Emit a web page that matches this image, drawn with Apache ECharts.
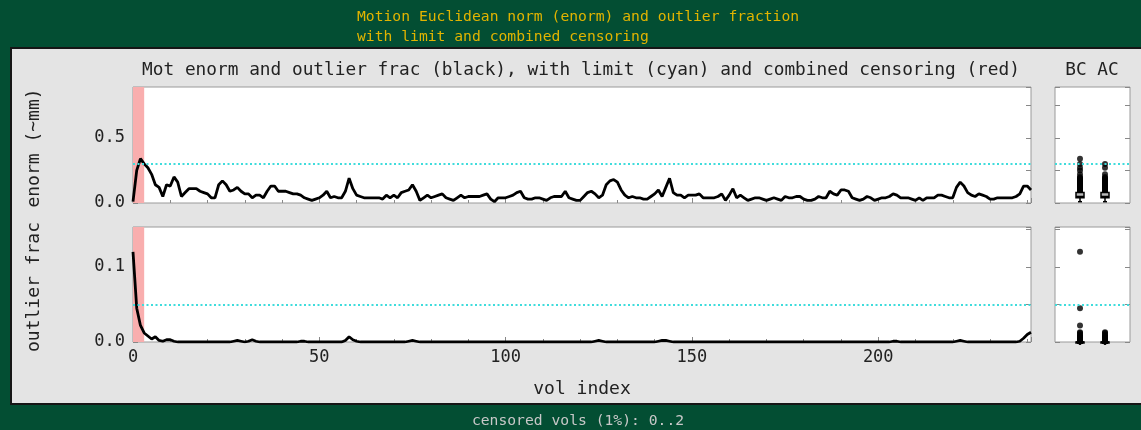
<!DOCTYPE html>
<html>
<head>
<meta charset="utf-8">
<script src="https://cdn.jsdelivr.net/npm/echarts@6/dist/echarts.min.js"></script>
<style>
  html, body { margin: 0; padding: 0; background: #034e33; }
  #main { width: 1141px; height: 430px; }
</style>
</head>
<body>
<div id="main"></div>
<script>
// motion Euclidean norm per volume (~mm)
const enorm = [
  0.01,0.25,0.34,0.30,0.27,0.22,0.14,0.12,0.05,0.14,0.13,0.20,0.16,0.05,0.08,0.11,0.11,0.11,0.09,0.08,
  0.07,0.04,0.04,0.14,0.17,0.14,0.09,0.10,0.12,0.09,0.07,0.07,0.04,0.06,0.06,0.04,0.09,0.13,0.13,0.09,
  0.09,0.09,0.08,0.07,0.07,0.06,0.04,0.03,0.02,0.03,0.04,0.06,0.09,0.04,0.05,0.04,0.04,0.09,0.19,0.11,
  0.06,0.05,0.04,0.04,0.04,0.04,0.04,0.03,0.06,0.04,0.06,0.04,0.08,0.09,0.10,0.14,0.09,0.02,0.04,0.06,
  0.04,0.05,0.06,0.07,0.04,0.03,0.02,0.04,0.06,0.04,0.05,0.05,0.05,0.05,0.06,0.07,0.03,0.01,0.04,0.04,
  0.04,0.05,0.06,0.08,0.09,0.04,0.03,0.03,0.04,0.04,0.03,0.02,0.04,0.05,0.05,0.05,0.09,0.04,0.03,0.02,
  0.02,0.05,0.08,0.09,0.07,0.04,0.06,0.14,0.17,0.18,0.16,0.10,0.06,0.04,0.05,0.04,0.04,0.03,0.03,0.05,
  0.07,0.10,0.05,0.12,0.19,0.08,0.06,0.06,0.04,0.06,0.06,0.06,0.07,0.04,0.04,0.04,0.04,0.05,0.07,0.02,
  0.06,0.11,0.04,0.06,0.04,0.02,0.03,0.04,0.04,0.03,0.02,0.03,0.04,0.03,0.02,0.05,0.04,0.04,0.05,0.05,
  0.03,0.02,0.02,0.03,0.05,0.04,0.04,0.09,0.07,0.06,0.10,0.10,0.09,0.04,0.03,0.02,0.03,0.05,0.04,0.02,
  0.03,0.04,0.04,0.05,0.07,0.06,0.04,0.04,0.04,0.03,0.02,0.04,0.02,0.04,0.04,0.04,0.06,0.06,0.05,0.04,
  0.04,0.12,0.16,0.13,0.08,0.06,0.05,0.07,0.06,0.05,0.03,0.03,0.04,0.04,0.04,0.04,0.04,0.05,0.07,0.13,
  0.13,0.10
]

// outlier fraction per volume
const outfrac = [
  0.12,0.045,0.022,0.012,0.008,0.004,0.007,0.002,0.001,0.003,0.003,0.001,0,0,0,0,0,0,0,0,
  0,0,0,0,0,0,0,0.001,0.002,0.001,0,0.001,0.003,0.001,0,0,0,0,0,0,
  0,0,0,0,0,0.001,0.001,0,0,0,0,0,0,0,0,0,0,0.002,0.007,0.003,
  0.001,0,0,0,0,0,0,0,0,0,0,0,0,0,0.001,0.002,0.001,0,0,0,
  0,0,0,0,0,0,0,0,0,0,0,0,0,0,0,0,0,0,0,0,
  0,0,0,0,0,0,0,0,0,0,0,0,0,0,0,0,0,0,0,0,
  0,0,0,0,0.001,0.002,0.001,0,0,0,0,0,0,0,0,0,0,0,0,0,
  0,0.001,0.002,0.002,0.001,0,0,0,0,0,0,0,0,0,0,0,0,0,0,0,
  0,0,0,0,0,0,0,0,0,0,0,0,0,0,0,0,0,0,0,0,
  0,0,0,0,0,0,0,0,0,0,0,0,0,0,0,0,0,0,0,0,
  0,0,0,0,0.001,0.001,0,0,0,0,0,0,0,0,0,0,0,0,0,0,
  0,0.001,0.002,0.001,0,0,0,0,0,0,0,0,0,0,0,0,0,0,0.001,0.005,
  0.01,0.013
]

const censored = [0, 1, 2]
const enormLimit = 0.3
const outLimit = 0.05
const boxLabels = ['BC', 'AC']
const xTicks = [0, 50, 100, 150, 200]

const FONT = 'DejaVu Sans Mono'
const myChart = echarts.init(document.getElementById('main'))

const pairs = arr => arr.map((v, i) => [i, v])
const afterCens = arr => arr.filter((v, i) => censored.indexOf(i) < 0)

function quant(sorted, p) {
    const pos = (sorted.length - 1) * p
    const lo = Math.floor(pos), hi = Math.ceil(pos)
    return sorted[lo] + (sorted[hi] - sorted[lo]) * (pos - lo)
}
// box stats + dots above the box for BC (pos 1) and AC (pos 2)
function boxData(arr) {
    const groups = [arr, afterCens(arr)]
    const boxes = [], dots = []
    groups.forEach((g, k) => {
        const s = g.slice().sort((a, b) => a - b)
        const q1 = quant(s, 0.25), med = quant(s, 0.5), q3 = quant(s, 0.75)
        boxes.push([k + 1, s[0], q1, med, q3])
        s.filter(v => v > q3).forEach(v => dots.push([k + 1, v]))
    })
    return { boxes, dots }
}
const bxE = boxData(enorm)
const bxO = boxData(outfrac)

function renderBox(params, api) {
    const x = api.value(0)
    const pMin = api.coord([x, api.value(1)])
    const pQ1 = api.coord([x, api.value(2)])
    const pMed = api.coord([x, api.value(3)])
    const pQ3 = api.coord([x, api.value(4)])
    const hw = 4
    const st = { stroke: '#000', lineWidth: 1.5, fill: null }
    return {
        type: 'group',
        children: [
            { type: 'line', shape: { x1: pMin[0], y1: pMin[1], x2: pQ1[0], y2: pQ1[1] }, style: st },
            { type: 'line', shape: { x1: pMin[0] - 2, y1: pMin[1], x2: pMin[0] + 2, y2: pMin[1] }, style: st },
            { type: 'rect', shape: { x: pQ3[0] - hw, y: pQ3[1], width: hw * 2, height: Math.max(pQ1[1] - pQ3[1], 1) },
              style: { stroke: '#000', lineWidth: 1.5, fill: '#bbb' } },
            { type: 'line', shape: { x1: pMed[0] - hw, y1: pMed[1], x2: pMed[0] + hw, y2: pMed[1] }, style: st }
        ]
    }
}

const cyanLine = v => ({
    silent: true, symbol: 'none', label: { show: false },
    lineStyle: { color: '#3fdcdc', type: [2, 2.5], width: 2 },
    data: [{ yAxis: v }]
})
const redArea = {
    silent: true,
    itemStyle: { color: '#f9aeae' },
    data: [[{ xAxis: Math.min(...censored) }, { xAxis: Math.max(...censored) + 1 }]]
}

const gridBase = { show: true, backgroundColor: '#fff', borderColor: '#9a9a9a', borderWidth: 1 }
const tickStyle = { inside: true, length: 5, lineStyle: { color: '#888' } }

function xVol(gi, labels) {
    return {
        type: 'value', gridIndex: gi, min: 0, max: 241, interval: 50,
        axisLine: { show: false }, splitLine: { show: false },
        axisTick: tickStyle,
        minorTick: { show: true, splitNumber: 5, length: 3, lineStyle: { color: '#888' } },
        axisLabel: labels ? {
            show: true, color: '#222', fontFamily: FONT, fontSize: 17, margin: 7,
            showMaxLabel: false,
            formatter: v => (xTicks.indexOf(v) >= 0 ? String(v) : '')
        } : { show: false },
        name: labels ? 'vol index' : '',
        nameLocation: 'middle', nameGap: 38,
        nameTextStyle: { color: '#222', fontFamily: FONT, fontSize: 18 }
    }
}
function xBox(gi) {
    return {
        type: 'value', gridIndex: gi, min: 0, max: 3,
        axisLine: { show: false }, axisTick: { show: false },
        axisLabel: { show: false }, splitLine: { show: false }
    }
}
function yAx(gi, max, interval, pos, labelEvery) {
    return {
        type: 'value', gridIndex: gi, position: pos, min: 0, max: max, interval: interval,
        axisLine: { show: false }, splitLine: { show: false },
        axisTick: tickStyle,
        axisLabel: labelEvery ? {
            show: true, color: '#222', fontFamily: FONT, fontSize: 17, margin: 8,
            formatter: v => {
                const r = v / labelEvery
                return Math.abs(r - Math.round(r)) < 1e-6 ? v.toFixed(1) : ''
            }
        } : { show: false }
    }
}

const option = {
    backgroundColor: '#034e33',
    animation: false,
    graphic: [
        { type: 'rect', z: -10, shape: { x: 11, y: 48, width: 1135, height: 356 },
          style: { fill: '#e4e4e4', stroke: '#161616', lineWidth: 2 } },
        { type: 'text', x: 357, y: 17, style: { text: 'Motion Euclidean norm (enorm) and outlier fraction',
          fill: '#e2b400', font: '14.7px "DejaVu Sans Mono"', textVerticalAlign: 'middle' } },
        { type: 'text', x: 357, y: 37, style: { text: 'with limit and combined censoring',
          fill: '#e2b400', font: '14.7px "DejaVu Sans Mono"', textVerticalAlign: 'middle' } },
        { type: 'text', x: 578, y: 421, style: { text: 'censored vols (1%): 0..2',
          fill: '#c8c8c8', font: '14.7px "DejaVu Sans Mono"', textAlign: 'center', textVerticalAlign: 'middle' } },
        { type: 'text', x: 581, y: 70, style: { text: 'Mot enorm and outlier frac (black), with limit (cyan) and combined censoring (red)',
          fill: '#222', font: '17.8px "DejaVu Sans Mono"', textAlign: 'center', textVerticalAlign: 'middle' } },
        { type: 'text', x: 1092, y: 70, style: { text: boxLabels.join(' '),
          fill: '#222', font: '17.8px "DejaVu Sans Mono"', textAlign: 'center', textVerticalAlign: 'middle' } },
        { type: 'text', x: 34, y: 148, rotation: Math.PI / 2, style: { text: 'enorm (~mm)',
          fill: '#222', font: '18px "DejaVu Sans Mono"', textAlign: 'center', textVerticalAlign: 'middle' } },
        { type: 'text', x: 34, y: 287, rotation: Math.PI / 2, style: { text: 'outlier frac',
          fill: '#222', font: '18px "DejaVu Sans Mono"', textAlign: 'center', textVerticalAlign: 'middle' } }
    ],
    grid: [
        Object.assign({ left: 133, top: 87, width: 898, height: 116 }, gridBase),
        Object.assign({ left: 133, top: 227, width: 898, height: 115 }, gridBase),
        Object.assign({ left: 1055, top: 87, width: 75, height: 116 }, gridBase),
        Object.assign({ left: 1055, top: 227, width: 75, height: 115 }, gridBase)
    ],
    xAxis: [xVol(0, false), xVol(1, true), xBox(2), xBox(3)],
    yAxis: [
        yAx(0, 0.89, 0.25, 'left', 0.5),
        yAx(0, 0.89, 0.25, 'right', 0),
        yAx(1, 0.153, 0.05, 'left', 0.1),
        yAx(1, 0.153, 0.05, 'right', 0),
        yAx(2, 0.89, 0.25, 'left', 0),
        yAx(2, 0.89, 0.25, 'right', 0),
        yAx(3, 0.153, 0.05, 'left', 0),
        yAx(3, 0.153, 0.05, 'right', 0)
    ],
    series: [
        {
            type: 'line', xAxisIndex: 0, yAxisIndex: 0, data: pairs(enorm),
            showSymbol: false, lineStyle: { color: '#000', width: 2.8 },
            markArea: redArea, markLine: cyanLine(enormLimit), z: 3
        },
        {
            type: 'line', xAxisIndex: 1, yAxisIndex: 2, data: pairs(outfrac),
            showSymbol: false, lineStyle: { color: '#000', width: 2.8 },
            markArea: redArea, markLine: cyanLine(outLimit), z: 3
        },
        {
            type: 'scatter', xAxisIndex: 2, yAxisIndex: 4, data: bxE.dots,
            symbolSize: 6, itemStyle: { color: '#000' }, markLine: cyanLine(enormLimit)
        },
        {
            type: 'custom', xAxisIndex: 2, yAxisIndex: 4, data: bxE.boxes, renderItem: renderBox, z: 4
        },
        {
            type: 'scatter', xAxisIndex: 3, yAxisIndex: 6, data: bxO.dots,
            symbolSize: 6, itemStyle: { color: '#000' }, markLine: cyanLine(outLimit)
        },
        {
            type: 'custom', xAxisIndex: 3, yAxisIndex: 6, data: bxO.boxes, renderItem: renderBox, z: 4
        }
    ]
}
myChart.setOption(option)
</script>
</body>
</html>
